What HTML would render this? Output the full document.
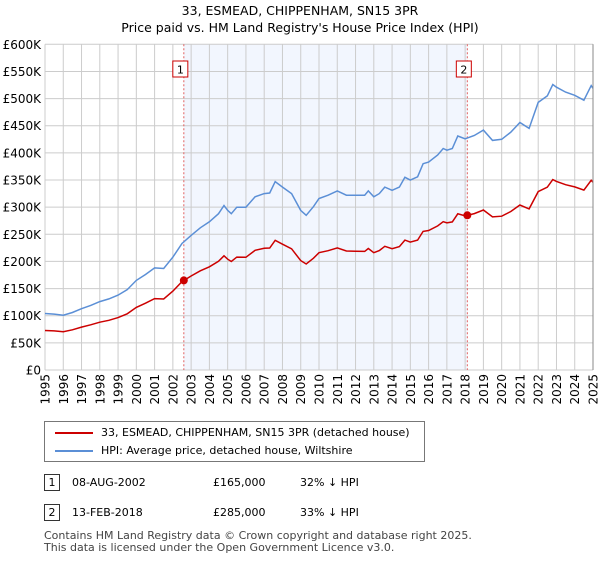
<!DOCTYPE html>
<html><head><meta charset="utf-8"><style>
body{margin:0;background:#fff;font-family:"Liberation Sans","DejaVu Sans",sans-serif;}
svg text{font-family:"DejaVu Sans","Liberation Sans",sans-serif;}
</style></head><body>
<svg id="c" width="600" height="560" xmlns="http://www.w3.org/2000/svg"></svg>
<script>
const years=[1995,1995.5,1996,1996.5,1997,1997.5,1998,1998.5,1999,1999.5,2000,2000.5,2001,2001.5,2002,2002.5,2003,2003.5,2004,2004.5,2004.8,2005,2005.2,2005.5,2006,2006.5,2007,2007.3,2007.6,2008,2008.5,2009,2009.3,2009.7,2010,2010.5,2011,2011.5,2012,2012.5,2012.7,2013,2013.3,2013.6,2014,2014.4,2014.7,2015,2015.4,2015.7,2016,2016.5,2016.8,2017,2017.3,2017.6,2018,2018.5,2019,2019.5,2020,2020.5,2021,2021.5,2022,2022.5,2022.8,2023,2023.5,2024,2024.5,2024.9,2025];
const hpi=[104,103,101,106,113,119,126,131,138,148,165,176,188,187,208,233,248,262,273,288,303,294,288,300,300,319,325,326,347,337,325,294,285,301,316,322,330,322,322,322,330,319,325,337,331,337,355,350,356,380,383,396,408,405,408,431,426,432,442,423,425,438,456,445,493,505,526,521,512,506,497,524,519];
const saleYears=[2002.6,2018.12];
const salePrices=[165,285];
const yTicks=[0,50,100,150,200,250,300,350,400,450,500,550,600];
const yTickLabels=["£0","£50K","£100K","£150K","£200K","£250K","£300K","£350K","£400K","£450K","£500K","£550K","£600K"];
const xTicks=[1995,1996,1997,1998,1999,2000,2001,2002,2003,2004,2005,2006,2007,2008,2009,2010,2011,2012,2013,2014,2015,2016,2017,2018,2019,2020,2021,2022,2023,2024,2025];

const X0=45,X1=593,Y0=370,Y1=44.3;
const xs=y=>X0+(y-1995)/30*(X1-X0);
const ys=v=>Y0-v/600*(Y0-Y1);
const svg=document.getElementById('c');
const NS='http://www.w3.org/2000/svg';
function mk(t,a,p){const e=document.createElementNS(NS,t);for(const k in a)e.setAttribute(k,a[k]);(p||svg).appendChild(e);return e;}
function hpiAt(t){for(let i=0;i<years.length-1;i++){if(t>=years[i]&&t<=years[i+1]){const f=(t-years[i])/(years[i+1]-years[i]);return hpi[i]+f*(hpi[i+1]-hpi[i]);}}return hpi[hpi.length-1];}
const r1=salePrices[0]/hpiAt(saleYears[0]),r2=salePrices[1]/hpiAt(saleYears[1]);
function ratio(t){if(t<=saleYears[0])return r1;if(t>=saleYears[1])return r2;return r1+(t-saleYears[0])/(saleYears[1]-saleYears[0])*(r2-r1);}

let t=mk('text',{x:300,y:15,'text-anchor':'middle','font-size':12.5,fill:'#000'});t.textContent='33, ESMEAD, CHIPPENHAM, SN15 3PR';

t=mk('text',{x:300,y:32,'text-anchor':'middle','font-size':12.5,fill:'#000'});t.textContent="Price paid vs. HM Land Registry's House Price Index (HPI)";


let sh=mk('rect',{x:xs(saleYears[0]),y:Y1,width:xs(saleYears[1])-xs(saleYears[0]),height:Y0-Y1,fill:'#f2f6fe'});


const g=mk('g',{stroke:'#cccccc','stroke-width':1});

yTicks.forEach((v,i)=>{mk('line',{x1:X0,x2:X1,y1:ys(v),y2:ys(v)},g);
 const l=mk('text',{x:41,y:ys(v)+4.5,'text-anchor':'end','font-size':12,fill:'#000'});l.textContent=yTickLabels[i];
 });
xTicks.forEach(y=>{mk('line',{x1:xs(y),x2:xs(y),y1:Y1,y2:Y0},g);
 const l=mk('text',{transform:`translate(${xs(y)+4.5},${Y0+4}) rotate(-90)`,'text-anchor':'end','font-size':12,fill:'#000'});l.textContent=y;
 });

saleYears.forEach((s,i)=>{
 const dl=mk('line',{x1:xs(s),x2:xs(s),y1:Y1,y2:Y0,stroke:'#e06060','stroke-dasharray':'2,2','stroke-width':1});
 
 const b=mk('rect',{x:xs(s)-11,y:61,width:15,height:16,fill:'#fff',stroke:'#cc0000'});
 
 const bt=mk('text',{x:xs(s)-3.5,y:73.5,'text-anchor':'middle','font-size':11,fill:'#000'});bt.textContent=i+1;
});

let pb='',pr='';
years.forEach((y,i)=>{pb+=(i?'L':'M')+xs(y).toFixed(1)+','+ys(hpi[i]).toFixed(1);pr+=(i?'L':'M')+xs(y).toFixed(1)+','+ys(hpi[i]*ratio(y)).toFixed(1);});
const bl=mk('path',{d:pb,fill:'none',stroke:'#5b8fd6','stroke-width':1.5});

const rl=mk('path',{d:pr,fill:'none',stroke:'#cc0000','stroke-width':1.5});

saleYears.forEach((s,i)=>{const c=mk('circle',{cx:xs(s),cy:ys(salePrices[i]),r:4,fill:'#cc0000'});
 });
mk('line',{x1:X1,x2:X1,y1:Y1,y2:Y0,stroke:'#888','stroke-width':1});
</script>

<div style="position:absolute;left:44px;top:421px;width:381px;height:41px;border:1px solid #777;box-sizing:border-box;font-size:11px;font-family:'DejaVu Sans','Liberation Sans',sans-serif;">
 <div style="position:absolute;left:10px;top:4px;white-space:nowrap;"><span style="display:inline-block;width:38px;height:2px;background:#cc0000;vertical-align:middle;margin-right:8px"></span>33, ESMEAD, CHIPPENHAM, SN15 3PR (detached house)</div>
 <div style="position:absolute;left:10px;top:22px;white-space:nowrap;"><span style="display:inline-block;width:38px;height:2px;background:#5b8fd6;vertical-align:middle;margin-right:8px"></span>HPI: Average price, detached house, Wiltshire</div>
</div>
<div style="position:absolute;left:44px;top:474px;font-size:11px;font-family:'DejaVu Sans','Liberation Sans',sans-serif;">
 <div style="position:absolute;top:0;left:0;white-space:nowrap;height:18px;">
  <span style="position:absolute;left:0;top:0;width:16px;height:17px;border:1px solid #333;box-sizing:border-box;text-align:center;line-height:16px">1</span>
  <span style="position:absolute;left:28px;top:2px">08-AUG-2002</span><span style="position:absolute;left:169px;top:2px">£165,000</span><span style="position:absolute;left:256px;top:2px">32% ↓ HPI</span></div>
 <div style="position:absolute;top:30px;left:0;white-space:nowrap;height:18px;">
  <span style="position:absolute;left:0;top:0;width:16px;height:17px;border:1px solid #333;box-sizing:border-box;text-align:center;line-height:16px">2</span>
  <span style="position:absolute;left:28px;top:2px">13-FEB-2018</span><span style="position:absolute;left:169px;top:2px">£285,000</span><span style="position:absolute;left:256px;top:2px">33% ↓ HPI</span></div>
</div>
<div style="position:absolute;left:44px;top:530px;font-size:11px;line-height:11.5px;color:#444;font-family:'DejaVu Sans','Liberation Sans',sans-serif;">Contains HM Land Registry data © Crown copyright and database right 2025.<br>This data is licensed under the Open Government Licence v3.0.</div>
</body></html>
